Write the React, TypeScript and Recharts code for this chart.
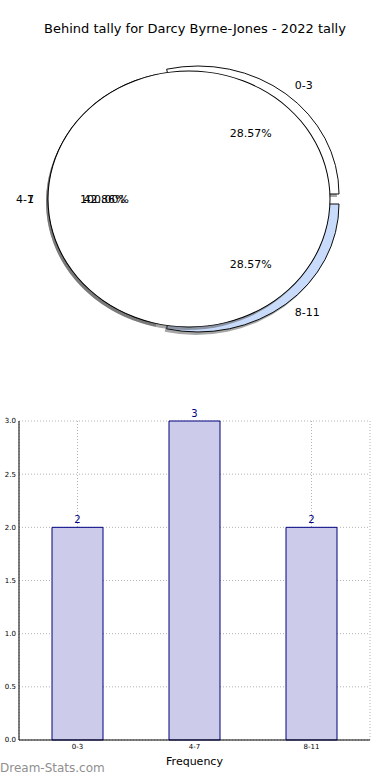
import React from 'react';
import { PieChart, Pie, Cell, BarChart, Bar, XAxis, YAxis, CartesianGrid, LabelList } from 'recharts';

const pieCategories = ['0-3', '4-7', '8-11'];
const pieCounts = [2, 3, 2];
const overlayCategories = ['1'];
const overlayCounts = [1];
const barCategories = ['0-3', '4-7', '8-11'];
const barCounts = [2, 3, 2];
const yTicks = [0, 0.5, 1, 1.5, 2, 2.5, 3];

const pieData = pieCategories.map((name, i) => ({ name, value: pieCounts[i] }));
const overlayData = overlayCategories.map((name, i) => ({ name, value: overlayCounts[i] }));
const barData = barCategories.map((name, i) => ({ name, value: barCounts[i] }));

const FONT = '"DejaVu Sans", Verdana, sans-serif';
const K = 128 / 141; // vertical squash of the pie (ellipse)
const CX = 189;
const CY = 199;
const R = 141;
const EXPLODE = [
  { dx: 9, dy: -5 },
  { dx: 0, dy: 0 },
  { dx: 9, dy: 5 },
];
const sliceFills = ['#ffffff', '#ffffff', '#c8dbfa'];
const SHADOW = { dx: -2, dy: 3 };
const SHADOW_FILL = '#4d4d4d';

const common = {
  dataKey: 'value',
  nameKey: 'name',
  startAngle: 0,
  endAngle: 360,
  isAnimationActive: false,
  label: false,
  labelLine: false,
} as const;

function makeLabel(offsets: { dx: number; dy: number }[]) {
  return (props: any) => {
    const { cx, cy, midAngle, outerRadius, index, name, percent } = props;
    const rad = (midAngle * Math.PI) / 180;
    const o = offsets[index] || { dx: 0, dy: 0 };
    const c = Math.cos(rad);
    const s = Math.sin(rad);
    const lx = cx + o.dx + 1.1 * outerRadius * c;
    const ly = cy + o.dy - 1.08 * outerRadius * K * s;
    const px = cx + o.dx + 0.6 * outerRadius * c;
    const py = cy + o.dy - 0.6 * outerRadius * K * s;
    return (
      <g>
        <text x={lx} y={ly} textAnchor={c > 0 ? 'start' : 'end'} dominantBaseline="central" fontSize={11} fontFamily={FONT} fill="#000">
          {name}
        </text>
        <text x={px} y={py} textAnchor="middle" dominantBaseline="central" fontSize={11} fontFamily={FONT} fill="#000">
          {(percent * 100).toFixed(2) + '%'}
        </text>
      </g>
    );
  };
}

export default function App() {
  return (
    <div style={{ position: 'absolute', left: 0, top: 0, width: 390, height: 780, background: '#fff', overflow: 'hidden' }}>
      <div style={{ position: 'absolute', left: 0, top: 21, width: 390, textAlign: 'center', fontFamily: FONT, fontSize: 13, color: '#000' }}>
        Behind tally for Darcy Byrne-Jones - 2022 tally
      </div>

      {/* squashed pie shapes */}
      <div style={{ position: 'absolute', left: 0, top: 0, transform: `scaleY(${K})`, transformOrigin: '0 0' }}>
        <PieChart width={390} height={Math.round(390 / K)} margin={{ top: 0, right: 0, bottom: 0, left: 0 }}>
          {pieCategories.map((_, i) => (
            <Pie
              key={'sh' + i}
              {...common}
              data={pieData}
              cx={CX + EXPLODE[i].dx + SHADOW.dx}
              cy={(CY + EXPLODE[i].dy + SHADOW.dy) / K}
              outerRadius={R}
            >
              {pieData.map((_, j) => (
                <Cell key={j} fill={j === i ? SHADOW_FILL : 'none'} fillOpacity={0.5} stroke="none" />
              ))}
            </Pie>
          ))}
          {[1, 0, 2].map((i) => (
            <Pie
              key={'w' + i}
              {...common}
              data={pieData}
              cx={CX + EXPLODE[i].dx}
              cy={(CY + EXPLODE[i].dy) / K}
              outerRadius={R}
            >
              {pieData.map((_, j) => (
                <Cell key={j} fill={j === i ? sliceFills[j] : 'none'} stroke={j === i ? '#000' : 'none'} strokeWidth={1} />
              ))}
            </Pie>
          ))}
          <Pie {...common} data={overlayData} cx={CX + SHADOW.dx} cy={(CY + SHADOW.dy) / K} outerRadius={R}>
            {overlayData.map((_, j) => (
              <Cell key={j} fill={SHADOW_FILL} fillOpacity={0.5} stroke="none" />
            ))}
          </Pie>
          <Pie {...common} data={overlayData} cx={CX} cy={CY / K} outerRadius={R}>
            {overlayData.map((_, j) => (
              <Cell key={j} fill="#ffffff" stroke="none" />
            ))}
          </Pie>
          <Pie {...common} data={overlayData} cx={CX} cy={CY / K} innerRadius={R - 0.5} outerRadius={R + 0.5}>
            {overlayData.map((_, j) => (
              <Cell key={j} fill="#000" stroke="none" />
            ))}
          </Pie>
        </PieChart>
      </div>

      {/* labels (unsquashed) */}
      <div style={{ position: 'absolute', left: 0, top: 0 }}>
        <PieChart width={390} height={390} margin={{ top: 0, right: 0, bottom: 0, left: 0 }}>
          <Pie {...common} data={pieData} cx={CX} cy={CY} outerRadius={R} label={makeLabel(EXPLODE)}>
            {pieData.map((_, j) => (
              <Cell key={j} fill="none" stroke="none" />
            ))}
          </Pie>
          <Pie {...common} data={overlayData} cx={CX} cy={CY} outerRadius={R} label={makeLabel([{ dx: 0, dy: 0 }])}>
            {overlayData.map((_, j) => (
              <Cell key={j} fill="none" stroke="none" />
            ))}
          </Pie>
        </PieChart>
      </div>

      {/* bar chart */}
      <div style={{ position: 'absolute', left: 0, top: 400 }}>
        <BarChart width={390} height={380} data={barData} margin={{ top: 21, right: 20, left: 0, bottom: 0 }}>
          <CartesianGrid stroke="#b4b4b4" strokeDasharray="1 2" />
          <XAxis
            dataKey="name"
            height={40}
            tickSize={0}
            tickMargin={4}
            tickLine={false}
            axisLine={{ stroke: '#000' }}
            tick={{ fontSize: 7, fill: '#000', fontFamily: FONT }}
            label={{ value: 'Frequency', position: 'insideBottom', offset: 15, fontSize: 11, fill: '#000', fontFamily: FONT }}
          />
          <YAxis
            domain={[0, 3]}
            ticks={yTicks}
            width={19}
            tickSize={0}
            tickMargin={3}
            tickLine={false}
            axisLine={{ stroke: '#000' }}
            tick={{ fontSize: 7, fill: '#000', fontFamily: FONT }}
            tickFormatter={(v: number) => v.toFixed(1)}
          />
          <XAxis xAxisId="top" orientation="top" dataKey="name" height={0} tick={false} tickLine={false} axisLine={{ stroke: '#000' }} />
          <YAxis yAxisId="right" orientation="right" domain={[0, 3]} width={0} tick={false} tickLine={false} axisLine={{ stroke: '#000' }} />
          <Bar dataKey="value" fill="#ccccea" stroke="#000080" strokeWidth={1} barSize={51} isAnimationActive={false}>
            <LabelList dataKey="value" position="top" offset={4} fill="#000080" fontSize={10} fontFamily={FONT} />
          </Bar>
        </BarChart>
      </div>

      <div style={{ position: 'absolute', left: 0, top: 761, fontFamily: FONT, fontSize: 12, color: '#8f8f8f', whiteSpace: 'nowrap' }}>
        Dream-Stats.com
      </div>
    </div>
  );
}
